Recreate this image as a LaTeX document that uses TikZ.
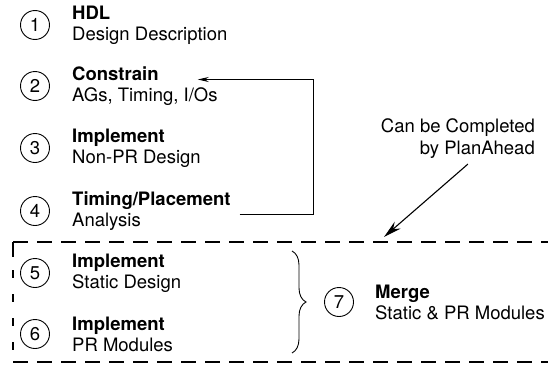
\documentclass[tikz,border=0pt]{standalone}
\usepackage{fontspec}
\setmainfont{TeX Gyre Heros}
\usetikzlibrary{arrows.meta,decorations.pathreplacing}
\begin{document}
\begin{tikzpicture}[x=1pt,y=-1pt,
  stepnum/.style={circle,draw,line width=0.9pt,minimum size=29pt,inner sep=0pt,
    font=\fontsize{18.5}{18.5}\selectfont},
  stepdesc/.style={anchor=west,align=left,inner sep=0pt,
    font=\fontsize{18.5}{21}\selectfont},
  conn/.style={line width=0.9pt,-{Stealth[length=11pt,width=5pt]}},
  region/.style={line width=1.4pt,dash pattern=on 15pt off 9pt}]
\useasboundingbox (0,0) rectangle (548,364);

% design flow steps
\node[stepnum] (n1) at (35,25)  {1};
\node[stepdesc] (t1) at (72,25)  {\textbf{HDL}\\Design Description};
\node[stepnum] (n2) at (35,86)  {2};
\node[stepdesc] (t2) at (72,86)  {\textbf{Constrain}\\AGs, Timing, I/Os};
\node[stepnum] (n3) at (35,148) {3};
\node[stepdesc] (t3) at (72,148) {\textbf{Implement}\\Non-PR Design};
\node[stepnum] (n4) at (35,211) {4};
\node[stepdesc] (t4) at (72,211) {\textbf{Timing/Placement}\\Analysis};
\node[stepnum] (n5) at (35,273) {5};
\node[stepdesc] (t5) at (72,273) {\textbf{Implement}\\Static Design};
\node[stepnum] (n6) at (35,334) {6};
\node[stepdesc] (t6) at (72,334) {\textbf{Implement}\\PR Modules};
\node[stepnum] (n7) at (339,302) {7};
\node[stepdesc] (t7) at (375,302) {\textbf{Merge}\\Static \& PR Modules};

% feedback loop from analysis back to constraints
\coordinate (loopout) at ([xshift=9pt,yshift=-3pt]t4.east);
\coordinate (loopin)  at ([xshift=-20pt,yshift=6.5pt]t2.east);
\draw[conn] (loopout) -- (313,214) |- (loopin);

% PlanAhead region (open on the right)
\coordinate (regTL) at (13,242);
\coordinate (regBL) at (13,362);
\draw[region] (regTL) -- (548,242);
\draw[region] (regBL) -- (548,362);
\draw[line width=1.4pt] (regTL) -- (13,257);
\draw[line width=1.4pt,dash pattern=on 8pt off 16pt] (13,270) -- (13,356);

% brace grouping steps 5 and 6
\draw[line width=0.9pt,decorate,decoration={brace,amplitude=14pt}]
  (292,251) -- (292,353);

% annotation
\node[anchor=east,align=right,inner sep=0pt,font=\fontsize{18.5}{22}\selectfont]
  (note) at (535,139) {Can be Completed\\by PlanAhead};
\coordinate (pin) at (384,237);
\draw[line width=1.1pt,-{Stealth[length=18pt,width=9pt]}]
  ([xshift=10pt,yshift=-5pt]note.south) -- (pin);
\end{tikzpicture}
\end{document}
